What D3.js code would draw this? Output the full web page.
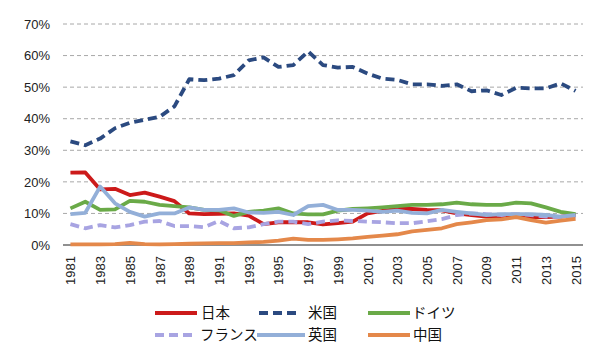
<!DOCTYPE html>
<html><head><meta charset="utf-8">
<script src="https://cdn.jsdelivr.net/npm/d3@7"></script>
<style>
html,body{margin:0;padding:0;background:#fff;}
svg{display:block;}
</style></head>
<body>
<svg id="chart" width="600" height="355"></svg>
<script>
const years = d3.range(1981, 2016);
const yTicks = [0, 10, 20, 30, 40, 50, 60, 70];
const japan   = [22.9,23.0,17.6,17.8,15.8,16.6,15.3,13.9,10.0,9.8,9.9,10.0,9.3,6.6,7.2,7.2,7.2,6.5,6.9,7.4,10.0,10.8,11.4,11.4,11.1,11.0,10.0,9.5,9.0,9.0,8.8,8.8,8.8,9.0,9.5];
const usa     = [32.8,31.6,33.7,37.0,38.7,39.7,40.6,43.9,52.5,52.2,52.7,53.8,58.5,59.4,56.4,57.0,61.3,57.0,56.2,56.4,54.3,52.7,52.3,50.9,50.9,50.4,50.9,48.7,49.0,47.5,49.8,49.6,49.6,51.2,48.8];
const germany = [11.6,13.7,11.1,11.3,14.0,13.7,12.7,12.3,11.9,11.1,11.0,9.2,10.5,10.9,11.6,10.0,9.7,9.7,10.9,11.4,11.6,11.9,12.3,12.7,12.7,12.9,13.4,12.9,12.7,12.7,13.4,13.2,11.9,10.5,9.8];
const france  = [6.6,5.3,6.3,5.6,6.3,7.4,7.6,6.0,6.0,5.6,7.6,5.3,5.6,6.6,7.4,7.4,6.6,7.4,7.8,7.6,7.4,7.2,6.9,6.9,7.5,8.2,9.5,10.0,9.8,9.5,9.8,9.5,9.0,8.8,9.0];
const uk      = [9.8,10.2,18.5,13.2,10.5,9.0,10.0,10.0,11.9,11.1,11.1,11.6,10.3,10.2,10.5,9.5,12.3,12.7,11.1,11.1,10.9,10.5,10.9,10.2,10.0,11.1,10.5,10.0,9.5,9.8,9.8,9.8,9.5,9.0,9.5];
const china   = [0.2,0.2,0.2,0.3,0.7,0.3,0.2,0.3,0.4,0.5,0.6,0.6,0.8,1.0,1.4,2.0,1.6,1.6,1.8,2.1,2.6,3.0,3.4,4.3,4.8,5.3,6.6,7.2,7.9,8.1,8.8,7.9,7.1,7.7,8.3];
const seriesNames = ["日本","米国","ドイツ","フランス","英国","中国"];

const series = [
  {name: seriesNames[0], values: japan,   color: "#cc1a1a", dash: null},
  {name: seriesNames[1], values: usa,     color: "#2b4a80", dash: "9,5"},
  {name: seriesNames[2], values: germany, color: "#6aaa48", dash: null},
  {name: seriesNames[3], values: france,  color: "#a8a4e2", dash: "9,5"},
  {name: seriesNames[4], values: uk,      color: "#93afd8", dash: null},
  {name: seriesNames[5], values: china,   color: "#e4884a", dash: null}
];

const svg = d3.select("#chart");
const plotL = 63, plotR = 583, plotT = 24, plotB = 245;

const x = d3.scalePoint().domain(years).range([plotL, plotR]).padding(0.5);
const y = d3.scaleLinear().domain([0, 70]).range([plotB, plotT]);

// gridlines
svg.append("g").selectAll("line").data(yTicks.filter(d => d > 0)).join("line")
  .attr("x1", plotL).attr("x2", plotR)
  .attr("y1", d => y(d)).attr("y2", d => y(d))
  .attr("stroke", "#a8a8a8").attr("stroke-width", 1).attr("stroke-dasharray", "4,3");

// y axis labels
const yAxis = d3.axisLeft(y).tickValues(yTicks).tickFormat(d => d + "%").tickSize(0).tickPadding(13);
const gy = svg.append("g").attr("transform", `translate(${plotL},0)`).call(yAxis);
gy.select(".domain").remove();
gy.selectAll("text").attr("font-family", "Liberation Sans, Arial, sans-serif").attr("font-size", 13).attr("fill", "#222");

// x axis
const xAxis = d3.axisBottom(x).tickValues(years.filter(d => (d - 1981) % 2 === 0)).tickSize(0).tickPadding(0);
const gx = svg.append("g").attr("transform", `translate(0,${plotB})`).call(xAxis);
gx.select(".domain").attr("stroke", "#222").attr("stroke-width", 1.2).attr("d", `M${plotL},0H${plotR}`);
gx.selectAll("text")
  .attr("font-family", "Liberation Sans, Arial, sans-serif").attr("font-size", 13).attr("fill", "#222")
  .attr("transform", "rotate(-90)")
  .attr("text-anchor", "end")
  .attr("x", -11).attr("y", 0).attr("dy", "0.35em");

// lines
const line = d3.line().x((d, i) => x(years[i])).y(d => y(d));
svg.append("g").selectAll("path").data(series).join("path")
  .attr("d", d => line(d.values))
  .attr("fill", "none")
  .attr("stroke", d => d.color)
  .attr("stroke-width", 3.8)
  .attr("stroke-linejoin", "round")
  .attr("stroke-dasharray", d => d.dash);

// legend
const legendPos = [
  {sx: 155, tx: 201, y: 313},
  {sx: 259, tx: 308, y: 313},
  {sx: 368, tx: 412, y: 313},
  {sx: 155, tx: 200, y: 335},
  {sx: 257, tx: 308, y: 335},
  {sx: 368, tx: 413, y: 335}
];
const lg = svg.append("g");
series.forEach((s, i) => {
  const p = legendPos[i];
  lg.append("line").attr("x1", p.sx).attr("x2", p.sx + (i === 4 ? 48 : 42))
    .attr("y1", p.y).attr("y2", p.y)
    .attr("stroke", s.color).attr("stroke-width", 3.8)
    .attr("stroke-dasharray", s.dash);
  lg.append("text").attr("x", p.tx).attr("y", p.y).attr("dy", "0.36em")
    .attr("font-family", "Noto Sans CJK JP, sans-serif").attr("font-size", 14.5).attr("fill", "#111")
    .text(s.name);
});
</script>
</body></html>
